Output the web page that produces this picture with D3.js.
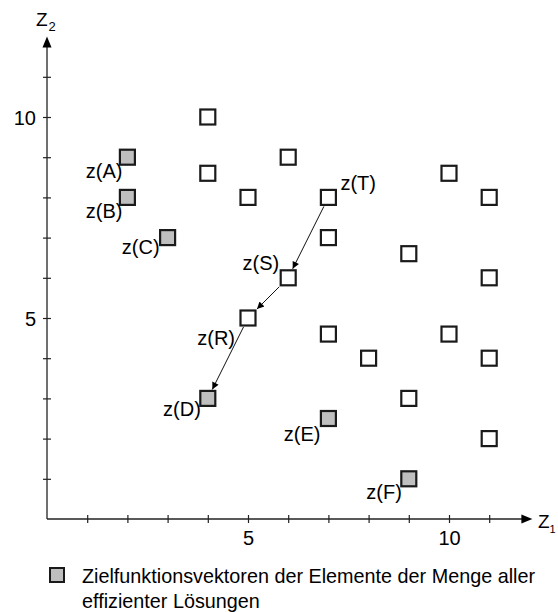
<!DOCTYPE html>
<html><head><meta charset="utf-8">
<script src="https://cdn.jsdelivr.net/npm/d3@7"></script>
<style>
html,body{margin:0;padding:0;background:#fff;}
svg{display:block;font-family:"Liberation Sans",Arial,sans-serif;}
</style></head>
<body><svg id="c" width="558" height="612"></svg>
<script>
// efficient solutions (gray)
const effNames = ["A","B","C","D","E","F"];
const effX = [2, 2, 3, 4, 7, 9];
const effY = [9, 8, 7, 3, 2.5, 1];
// other solutions (white)
const othNames = ["", "", "", "", "T", "", "S", "R", "", "", "", "", "", "", "", "", "", ""];
const othX = [4, 4, 5, 6, 7, 7, 6, 5, 7, 8, 9, 9, 10, 10, 11, 11, 11, 11];
const othY = [10, 8.6, 8, 9, 8, 7, 6, 5, 4.6, 4, 3, 6.6, 8.6, 4.6, 8, 6, 4, 2];
// path of the procedure
const linkFrom = ["T", "S", "R"];
const linkTo = ["S", "R", "D"];
const tickVals = [1,2,3,4,5,6,7,8,9,10,11];
const tickLabels = [5, 10];
const legendLines = ["Zielfunktionsvektoren der Elemente der Menge aller", "effizienter Lösungen"];
// label offsets (px) relative to square centre: [dx, dy, anchor]
const labelPos = {A:[-5,21,"end"],B:[-5,21,"end"],C:[-8,16,"end"],D:[-7,18,"end"],E:[-8,22,"end"],F:[-7,20,"end"],T:[12,-7,"start"],S:[-9,-8,"end"],R:[-13,27,"end"]};

const svg = d3.select("#c");
const ox = 47, oy = 519, u = 40.2;
const x = d3.scaleLinear().domain([0,12]).range([ox, ox+12*u]);
const y = d3.scaleLinear().domain([0,12]).range([oy, oy-12*u]);
const ink = "#000";

// axes
const xa = svg.append("g").attr("transform",`translate(0,${oy})`)
  .call(d3.axisBottom(x).tickValues(tickVals).tickSize(4)
    .tickFormat(d => tickLabels.includes(d) ? d : ""));
const ya = svg.append("g").attr("transform",`translate(${ox},0)`)
  .call(d3.axisLeft(y).tickValues(tickVals).tickSize(4)
    .tickFormat(d => tickLabels.includes(d) ? d : ""));
[xa, ya].forEach(g => {
  g.select(".domain").remove();
  g.selectAll("line").attr("stroke","#222").attr("stroke-width",1.2);
  g.selectAll("text").attr("font-size",20).attr("fill",ink)
    .attr("font-family",'"Liberation Sans",Arial,sans-serif');
});
xa.selectAll(".tick line").attr("y1",-4).attr("y2",4);
xa.selectAll(".tick text").attr("y",12).attr("dy","0.71em");
ya.selectAll(".tick line").attr("x1",-4).attr("x2",4);
ya.selectAll(".tick text").attr("x",-11).attr("dy","0.35em");

// axis lines with arrows
svg.append("line").attr("x1",ox).attr("y1",oy).attr("x2",ox+12*u-6).attr("y2",oy).attr("stroke","#222").attr("stroke-width",1.3);
svg.append("line").attr("x1",ox).attr("y1",oy).attr("x2",ox).attr("y2",oy-12*u+6).attr("stroke","#222").attr("stroke-width",1.3);
const tx = x(12)+3, ty = y(12);
svg.append("path").attr("d",`M${tx},${oy} L${tx-11},${oy-4.5} L${tx-11},${oy+4.5}Z`).attr("fill","#000");
svg.append("path").attr("d",`M${ox},${ty} L${ox-4.5},${ty+11} L${ox+4.5},${ty+11}Z`).attr("fill","#000");

// axis titles
const t2 = svg.append("text").attr("x",36).attr("y",26).attr("font-size",19).attr("fill",ink);
t2.append("tspan").text("Z");
t2.append("tspan").attr("font-size",13).attr("dy",5).attr("dx",1).text("2");
const t1 = svg.append("text").attr("x",538).attr("y",528).attr("font-size",19).attr("fill",ink);
t1.append("tspan").text("Z");
t1.append("tspan").attr("font-size",11).attr("dy",5).text("1");

// data
const pts = [];
effX.forEach((v,i) => pts.push({name:effNames[i], x:v, y:effY[i], eff:true}));
othX.forEach((v,i) => pts.push({name:othNames[i], x:v, y:othY[i], eff:false}));
const byName = {};
pts.forEach(p => { if (p.name) byName[p.name] = p; });

// arrows
svg.append("defs").append("marker").attr("id","ah").attr("viewBox","0 0 10 10")
  .attr("refX",10).attr("refY",5).attr("markerWidth",9).attr("markerHeight",7)
  .attr("markerUnits","userSpaceOnUse").attr("orient","auto")
  .append("path").attr("d","M0,0 L10,5 L0,10Z").attr("fill","#000");
const h = 9;
linkFrom.forEach((f,i) => {
  const a = byName[f], b = byName[linkTo[i]];
  const x1 = x(a.x), y1 = y(a.y), x2 = x(b.x), y2 = y(b.y);
  const dx = x2-x1, dy = y2-y1;
  const t = Math.min(h/Math.abs(dx), h/Math.abs(dy));
  svg.append("line")
    .attr("x1", x1+dx*t).attr("y1", y1+dy*t)
    .attr("x2", x2-dx*t).attr("y2", y2-dy*t)
    .attr("stroke","#111").attr("stroke-width",1).attr("marker-end","url(#ah)");
});

// squares
const s = 15;
svg.append("g").selectAll("rect").data(pts).join("rect")
  .attr("x", d => x(d.x)-s/2).attr("y", d => y(d.y)-s/2)
  .attr("width", s).attr("height", s)
  .attr("fill", d => d.eff ? "#bfbfbf" : "#fff")
  .attr("stroke","#1a1a1a").attr("stroke-width",2.2);

// labels
svg.append("g").selectAll("text").data(pts.filter(p => p.name)).join("text")
  .attr("x", d => x(d.x)+labelPos[d.name][0])
  .attr("y", d => y(d.y)+labelPos[d.name][1])
  .attr("text-anchor", d => labelPos[d.name][2])
  .attr("font-size",20).attr("fill",ink)
  .text(d => `z(${d.name})`);

// legend
svg.append("rect").attr("x",50).attr("y",568).attr("width",14).attr("height",14)
  .attr("fill","#bfbfbf").attr("stroke","#1a1a1a").attr("stroke-width",2);
legendLines.forEach((l,i) => svg.append("text").attr("x",82).attr("y",583+i*25)
  .attr("font-size",19.8).attr("fill",ink).text(l));
</script></body></html>
